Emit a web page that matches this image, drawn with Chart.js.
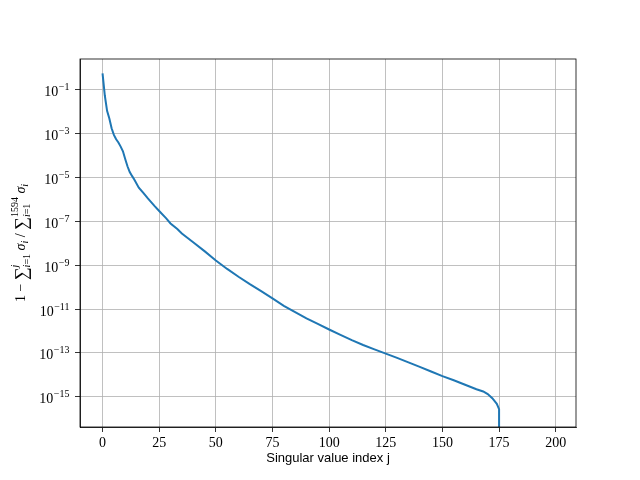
<!DOCTYPE html>
<html><head><meta charset="utf-8">
<script src="https://cdn.jsdelivr.net/npm/chart.js@4"></script>
<style>html,body{margin:0;padding:0;background:#fff;}#wrap{width:640px;height:480px;}</style>
</head><body><div id="wrap"><canvas id="c" width="640" height="480"></canvas></div>
<script>
// singular value index j
const singularIndex = [0,1,2,3,4,5,6,7,8,9,10,11,12,13,14,16,18,20,23,25,28,30,33,35,40,45,50,55,60,65,70,75,80,85,90,95,100,105,110,115,120,125,130,135,140,145,150,155,160,165,168,170,172,174,175,176];
// 1 - sum_{i<=j} sigma_i / sum sigma_i  (last value is zero)
const tailRatio = [5.75e-1,5.6e-2,1.12e-2,5.0e-3,1.78e-3,8.9e-4,5.6e-4,4.0e-4,2.6e-4,1.6e-4,7.1e-5,3.3e-5,1.8e-5,1.2e-5,8.3e-6,3.5e-6,2.0e-6,1.12e-6,5.0e-7,3.0e-7,1.41e-7,8.1e-8,4.5e-8,2.8e-8,1.12e-8,4.4e-9,1.66e-9,6.8e-10,3.0e-10,1.38e-10,6.6e-11,3.1e-11,1.41e-11,7.2e-12,3.8e-12,2.1e-12,1.17e-12,6.6e-13,3.8e-13,2.3e-13,1.45e-13,9.3e-14,5.9e-14,3.7e-14,2.3e-14,1.41e-14,8.7e-15,5.6e-15,3.5e-15,2.2e-15,1.74e-15,1.32e-15,8.5e-16,4.7e-16,2.7e-16,0];
const xTickValues = [0,25,50,75,100,125,150,175,200];
const yTickExponents = [-1,-3,-5,-7,-9,-11,-13,-15];
const xAxisTitle = 'Singular value index j';

const serif = '"Liberation Serif", "DejaVu Serif", serif';

const overlay = {
  id: 'overlay',
  afterDraw(chart) {
    const ctx = chart.ctx;
    const a = chart.chartArea;
    const ys = chart.scales.y;
    ctx.save();
    // spines
    ctx.strokeStyle = '#000';
    ctx.lineWidth = 0.8;
    ctx.strokeRect(a.left, a.top, a.right - a.left, a.bottom - a.top);
    // y tick labels 10^e
    ctx.fillStyle = '#000';
    ctx.textBaseline = 'alphabetic';
    ctx.textAlign = 'left';
    const rightX = a.left - 10.5;
    yTickExponents.forEach(e => {
      const y = ys.getPixelForValue(Math.pow(10, e));
      const expTxt = '\u2212' + Math.abs(e);
      ctx.font = '10px ' + serif;
      const we = ctx.measureText(expTxt).width;
      ctx.font = '14px ' + serif;
      const wb = ctx.measureText('10').width;
      ctx.fillText('10', rightX - we - wb - 0.5, y + 6.5);
      ctx.font = '10px ' + serif;
      ctx.fillText(expTxt, rightX - we, y + 0.5);
    });
    // y axis title (math)
    const runs = [
      {t:'1', s:14},
      {t:' \u2212 ', s:14},
      {t:'\u2211', s:18, dy:2},
      {stack:[{t:'j', s:10, it:true, dy:-7},{parts:[{t:'i', s:10, it:true},{t:'=1', s:10}], dy:4.5}]},
      {t:' \u03c3', s:14, it:true},
      {t:'i', s:10, it:true, dy:3},
      {t:' / ', s:14},
      {t:'\u2211', s:18, dy:2},
      {stack:[{t:'1594', s:10, dy:-7},{parts:[{t:'i', s:10, it:true},{t:'=1', s:10}], dy:4.5}]},
      {t:' \u03c3', s:14, it:true},
      {t:'i', s:10, it:true, dy:3}
    ];
    const fnt = r => (r.it ? 'italic ' : '') + r.s + 'px ' + serif;
    const wOf = r => {
      if (r.stack) return Math.max(...r.stack.map(wOf));
      if (r.parts) return r.parts.reduce((acc, p) => acc + wOf(p), 0);
      ctx.font = fnt(r); return ctx.measureText(r.t).width;
    };
    const drawRun = (r, x) => {
      if (r.stack) { r.stack.forEach(q => drawRun(q, x)); return; }
      if (r.parts) { let xx = x; r.parts.forEach(p => { ctx.font = fnt(p); ctx.fillText(p.t, xx, r.dy || 0); xx += wOf(p); }); return; }
      ctx.font = fnt(r); ctx.fillText(r.t, x, r.dy || 0);
    };
    const total = runs.reduce((acc, r) => acc + wOf(r), 0);
    ctx.translate(25, (a.top + a.bottom) / 2);
    ctx.rotate(-Math.PI / 2);
    let x = -total / 2;
    runs.forEach(r => { drawRun(r, x); x += wOf(r); });
    ctx.restore();
  }
};

// zero cannot sit on a log axis; like matplotlib's clipping it is drawn far below the axes and cut off
const belowAxis = 1e-300;

new Chart(document.getElementById('c'), {
  type: 'line',
  data: {
    datasets: [{
      data: singularIndex.map((j, i) => ({x: j, y: tailRatio[i] > 0 ? tailRatio[i] : belowAxis})),
      borderColor: '#1f77b4',
      borderWidth: 2,
      pointRadius: 0,
      tension: 0,
      fill: false
    }]
  },
  options: {
    responsive: false,
    animation: false,
    devicePixelRatio: 1,
    layout: {padding: {left: 0, right: 64, top: 59, bottom: 0}},
    plugins: {legend: {display: false}, tooltip: {enabled: false}},
    scales: {
      x: {
        type: 'linear',
        min: -9.95,
        max: 208.95,
        afterBuildTicks: s => { s.ticks = xTickValues.map(v => ({value: v})); },
        afterFit: s => { s.height = 53; },
        ticks: {font: {family: serif, size: 14}, color: '#000', padding: 3, maxRotation: 0},
        grid: {color: '#b0b0b0', lineWidth: 0.8, tickColor: '#000', tickLength: 5, tickWidth: 0.8},
        border: {display: true, color: '#000', width: 0.8},
        title: {display: true, text: xAxisTitle, color: '#000', font: {family: '"Liberation Sans", sans-serif', size: 13}, padding: {top: 0, bottom: 14}}
      },
      y: {
        type: 'logarithmic',
        min: Math.pow(10, -16.383),
        max: Math.pow(10, 0.415),
        afterBuildTicks: s => { s.ticks = yTickExponents.map(e => ({value: Math.pow(10, e)})); },
        afterFit: s => { s.width = 80; },
        ticks: {callback: () => '', padding: 0},
        grid: {color: '#b0b0b0', lineWidth: 0.8, tickColor: '#000', tickLength: 5, tickWidth: 0.8},
        border: {display: true, color: '#000', width: 0.8}
      }
    }
  },
  plugins: [overlay]
});
</script>
</body></html>
